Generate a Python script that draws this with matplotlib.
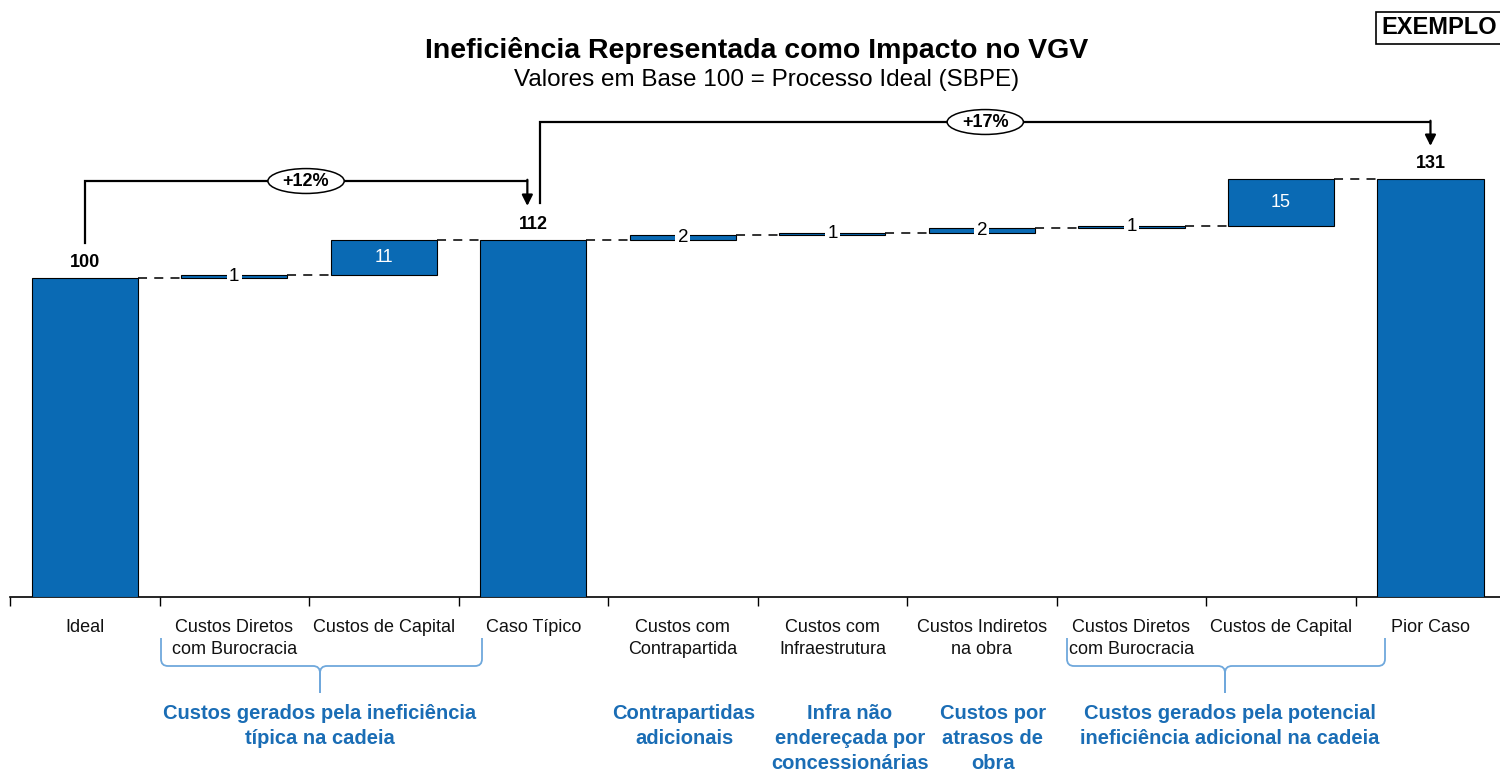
import numpy as np
import matplotlib.pyplot as plt
from matplotlib.patches import Ellipse, PathPatch
from matplotlib.path import Path

plt.rcParams['font.family'] = ['Liberation Sans', 'DejaVu Sans']

# Waterfall data (base 100 = ideal process)
categories = ['Ideal', 'Custos Diretos\ncom Burocracia', 'Custos de Capital', 'Caso Típico',
              'Custos com\nContrapartida', 'Custos com\nInfraestrutura', 'Custos Indiretos\nna obra',
              'Custos Diretos\ncom Burocracia', 'Custos de Capital', 'Pior Caso']
ideal = 100
typical_steps = [0.9, 11.1]
worst_steps = [1.5, 0.6, 1.5, 0.8, 14.6]

group_labels = ['Custos gerados pela ineficiência\ntípica na cadeia',
                'Contrapartidas\nadicionais',
                'Infra não\nendereçada por\nconcessionárias',
                'Custos por\natrasos de\nobra',
                'Custos gerados pela potencial\nineficiência adicional na cadeia']

bar_blue = '#0A6AB4'
label_blue = '#1A6DB5'
brace_blue = '#6FA8DC'

values = [ideal] + typical_steps + [None] + worst_steps + [None]
bottoms, heights, totals = [], [], []
running = 0.0
for v in values:
    if v is None:
        bottoms.append(0.0)
        heights.append(running)
        totals.append(True)
    else:
        bottoms.append(running)
        heights.append(v)
        totals.append(running == 0)
        running += v
typical = heights[3]
worst = heights[-1]

fig = plt.figure(figsize=(15, 7.7), dpi=100)

# overlay in pixel coordinates for titles, braces and group notes
ov = fig.add_axes([0, 0, 1, 1])
ov.set_xlim(0, 1500)
ov.set_ylim(770, 0)
ov.axis('off')

ax = fig.add_axes([10 / 1500, 173 / 770, 1490 / 1500, 597 / 770])
ax.patch.set_visible(False)
ax.set_xlim(-0.5, 9.465)
ax.set_ylim(0, 597 / 3.19)

n = len(categories)
x = np.arange(n)
w = 0.71
ax.bar(x, heights, bottom=bottoms, width=w, color=bar_blue, edgecolor='black', linewidth=0.8, zorder=3)

# dashed connectors between bars
for i in range(n - 1):
    level = bottoms[i] + heights[i]
    ax.plot([i + w / 2, i + 1 - w / 2], [level, level], color='#222222', lw=1.3,
            linestyle=(0, (5, 4)), zorder=2)

# value labels
for i in range(n):
    top = bottoms[i] + heights[i]
    if totals[i]:
        ax.annotate(f'{round(top):d}', (i, top), xytext=(0, 5), textcoords='offset points',
                    ha='center', va='bottom', fontsize=13, fontweight='bold', color='black')
    elif heights[i] > 4:
        ax.text(i, bottoms[i] + heights[i] / 2, f'{round(heights[i]):d}', ha='center', va='center',
                fontsize=13, color='white', zorder=4)
    else:
        ax.text(i, bottoms[i] + heights[i] / 2, f'{round(heights[i]):d}', ha='center', va='center',
                fontsize=13.5, color='black', zorder=4,
                bbox=dict(boxstyle='square,pad=0.12', facecolor='white', edgecolor='none'))


def bracket(x_from, y_from, x_to, y_to, y_line, pct):
    ax.plot([x_from, x_from, x_to], [y_from, y_line, y_line], color='black', lw=1.6,
            clip_on=False, solid_joinstyle='miter', zorder=3)
    ax.annotate('', xy=(x_to, y_to), xytext=(x_to, y_line + 0.4),
                arrowprops=dict(arrowstyle='-|>', color='black', lw=1.6, mutation_scale=16,
                                shrinkA=0, shrinkB=0), annotation_clip=False)
    xc = (x_from + x_to) / 2
    ax.add_patch(Ellipse((xc, y_line), width=0.51, height=7.8, facecolor='white',
                         edgecolor='black', lw=1.1, zorder=5, clip_on=False))
    ax.text(xc, y_line, f'+{pct:d}%', ha='center', va='center', fontsize=13,
            fontweight='bold', zorder=6)


bracket(0, ideal + 11, 2.96, typical + 10.6, 130.4, round((typical / ideal - 1) * 100))
bracket(3.045, typical + 11.6, 9.0, worst + 10.4, 148.9, round((worst / typical - 1) * 100))

# axis styling
for s in ['top', 'left', 'right']:
    ax.spines[s].set_visible(False)
ax.spines['bottom'].set_linewidth(1.2)
ax.set_yticks([])
ax.set_xticks(np.arange(n) - 0.5)
ax.set_xticklabels([])
ax.tick_params(axis='x', which='major', length=6.5, width=1, direction='out')
ax.set_xticks(x, minor=True)
ax.set_xticklabels(categories, minor=True, fontsize=13, color='#111111', linespacing=1.4)
ax.tick_params(axis='x', which='minor', length=0, pad=16)

ov.text(757, 50, 'Ineficiência Representada como Impacto no VGV', ha='center', va='center',
        fontsize=20.5, fontweight='bold')
ov.text(767, 80, 'Valores em Base 100 = Processo Ideal (SBPE)', ha='center', va='center',
        fontsize=17.5)
ov.text(1381, 28, 'EXEMPLO', ha='left', va='center', fontsize=17, fontweight='bold',
        bbox=dict(boxstyle='square,pad=0.2', facecolor='white', edgecolor='black', lw=1.2))


def brace(x0, x1, xt, y_top=638, y_mid=666, y_tip=693, r=7):
    for a, sgn in [(x0, 1), (x1, -1)]:
        verts = [(a, y_top), (a, y_mid - r), (a, y_mid), (a + sgn * r, y_mid),
                 (xt - sgn * r, y_mid), (xt, y_mid), (xt, y_mid + r), (xt, y_tip)]
        codes = [Path.MOVETO, Path.LINETO, Path.CURVE3, Path.CURVE3,
                 Path.LINETO, Path.CURVE3, Path.CURVE3, Path.LINETO]
        ov.add_patch(PathPatch(Path(verts, codes), facecolor='none', edgecolor=brace_blue, lw=1.3))


brace(161, 482, 320)
brace(1067, 1385, 1225)

group_x = [320, 684, 850, 993, 1230]
for gx, txt in zip(group_x, group_labels):
    ov.text(gx, 704, txt, ha='center', va='top', fontsize=14.5, fontweight='bold',
            color=label_blue, linespacing=1.4)

fig.savefig('out.png', dpi=100)
